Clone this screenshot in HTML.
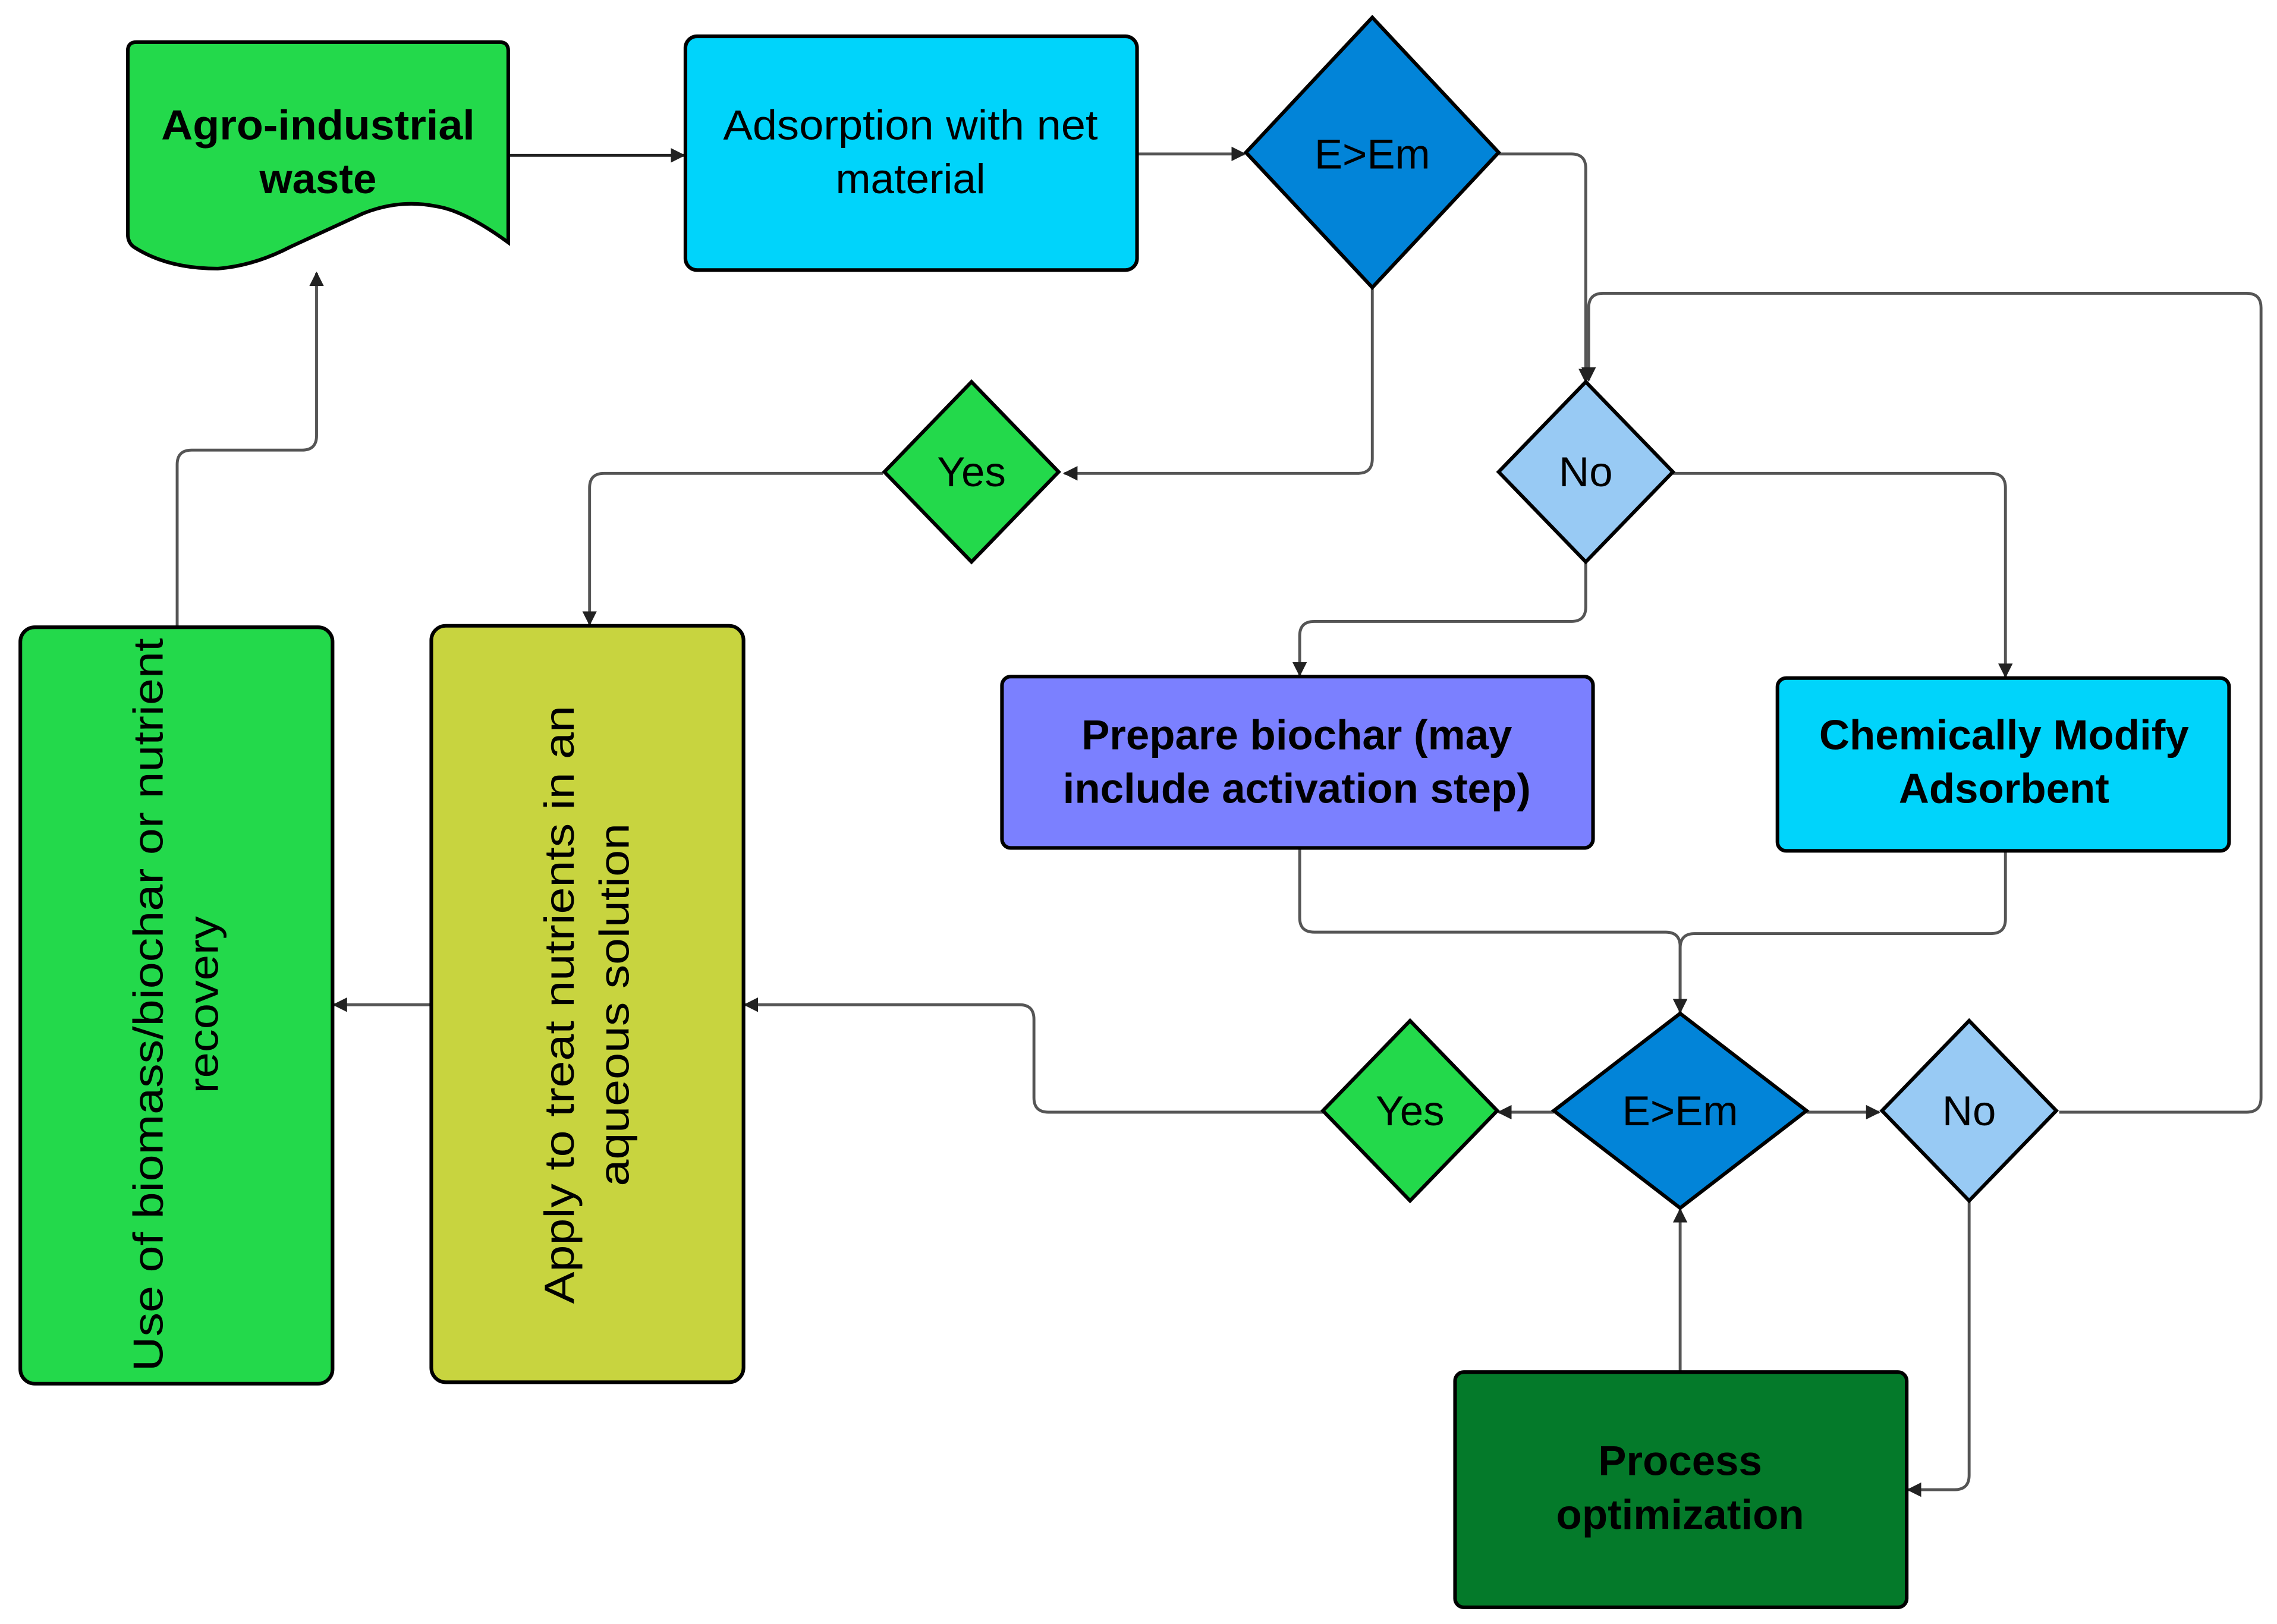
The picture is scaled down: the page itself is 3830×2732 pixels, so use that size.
<!DOCTYPE html>
<html><head><meta charset="utf-8"><style>
html,body{margin:0;padding:0;background:#fff;}
svg{display:block;}
text{font-family:"Liberation Sans",Arial,sans-serif;fill:#000;}
</style></head><body>
<svg width="3830" height="2732" viewBox="0 0 1568 1118.5" preserveAspectRatio="none" xmlns="http://www.w3.org/2000/svg">
<defs>
<marker id="a" viewBox="0 0 10 10" refX="9" refY="5" markerWidth="10" markerHeight="10" markerUnits="userSpaceOnUse" orient="auto">
<path d="M0,0 L10,5 L0,10 z" fill="#222"/></marker>
</defs>
<g fill="none" stroke="#555" stroke-width="2" marker-end="url(#a)">
<path d="M350,107 H471" stroke="#222"/>
<path d="M783,106 H857"/>
<path d="M1032,106 H1082 Q1092,106 1092,116 V263"/>
<path d="M1418,766 H1547 Q1557,766 1557,756 V212 Q1557,202 1547,202 H1104 Q1094,202 1094,212 V262"/>
<path d="M945,198 V316 Q945,326 935,326 H733"/>
<path d="M608,326 H416 Q406,326 406,336 V430"/>
<path d="M1152,326 H1371 Q1381,326 1381,336 V466"/>
<path d="M1092,387 V418 Q1092,428 1082,428 H905 Q895,428 895,438 V465"/>
<path d="M895,584 V632 Q895,642 905,642 H1147 Q1157,642 1157,652 V697"/>
<path d="M1381,586 V633 Q1381,643 1371,643 H1167 Q1157,643 1157,653 V697"/>
<path d="M1070,766 H1032"/>
<path d="M1244,766 H1294"/>
<path d="M911,766 H722 Q712,766 712,756 V702 Q712,692 702,692 H513"/>
<path d="M297,692 H230"/>
<path d="M122,432 V320 Q122,310 132,310 H208 Q218,310 218,300 V188"/>
<path d="M1157,945 V833"/>
<path d="M1356,827 V1016 Q1356,1026 1346,1026 H1314"/>
</g>
<g stroke="#000" stroke-width="2.5">
<path d="M94,29 H344 Q350,29 350,35 V167 Q320,145 300,142 Q275,137 250,147 L200,170 Q175,183 150,185 Q115,185 92,170 Q88,167 88,161 V35 Q88,29 94,29 Z" fill="#23d94b"/>
<rect x="472" y="25" width="311" height="161" rx="8" fill="#00d4fb"/>
<polygon points="945,12 1032,105 945,198 858,105" fill="#0284d8"/>
<polygon points="669,263 729,325 669,387 609,325" fill="#23d94b"/>
<polygon points="1092,263 1152,325 1092,387 1032,325" fill="#98caf4"/>
<rect x="690" y="466" width="407" height="118" rx="6" fill="#7b80ff"/>
<rect x="1224" y="467" width="311" height="119" rx="6" fill="#00d4fb"/>
<rect x="14" y="432" width="215" height="521" rx="10" fill="#23d94b"/>
<rect x="297" y="431" width="215" height="521" rx="10" fill="#c8d43f"/>
<polygon points="1157,698 1244,765 1157,832 1070,765" fill="#0284d8"/>
<polygon points="971,703 1031,765 971,827 911,765" fill="#23d94b"/>
<polygon points="1356,703 1416,765 1356,827 1296,765" fill="#98caf4"/>
<rect x="1002" y="945" width="311" height="162" rx="6" fill="#047a2a"/>
</g>
<g font-size="29" text-anchor="middle">
<text x="219" y="96" font-weight="bold" textLength="216" lengthAdjust="spacingAndGlyphs">Agro-industrial</text>
<text x="219" y="133" font-weight="bold">waste</text>
<text x="627" y="96" textLength="258" lengthAdjust="spacingAndGlyphs">Adsorption with net</text>
<text x="627" y="133">material</text>
<text x="945" y="116">E&gt;Em</text>
<text x="669" y="335">Yes</text>
<text x="1092" y="335">No</text>
<text x="893" y="516" font-weight="bold">Prepare biochar (may</text>
<text x="893" y="553" font-weight="bold">include activation step)</text>
<text x="1380" y="516" font-weight="bold">Chemically Modify</text>
<text x="1380" y="553" font-weight="bold">Adsorbent</text>
<text x="1157" y="775">E&gt;Em</text>
<text x="971" y="775">Yes</text>
<text x="1356" y="775">No</text>
<text x="1157" y="1016" font-weight="bold">Process</text>
<text x="1157" y="1053" font-weight="bold">optimization</text>
<text transform="translate(112,692) rotate(-90)" textLength="505" lengthAdjust="spacingAndGlyphs">Use of biomass/biochar or nutrient</text>
<text transform="translate(150,692) rotate(-90)" textLength="122" lengthAdjust="spacingAndGlyphs">recovery</text>
<text transform="translate(395,692) rotate(-90)" textLength="412" lengthAdjust="spacingAndGlyphs">Apply to treat nutrients in an</text>
<text transform="translate(433,692) rotate(-90)" textLength="250" lengthAdjust="spacingAndGlyphs">aqueous solution</text>
</g>
</svg>
</body></html>
